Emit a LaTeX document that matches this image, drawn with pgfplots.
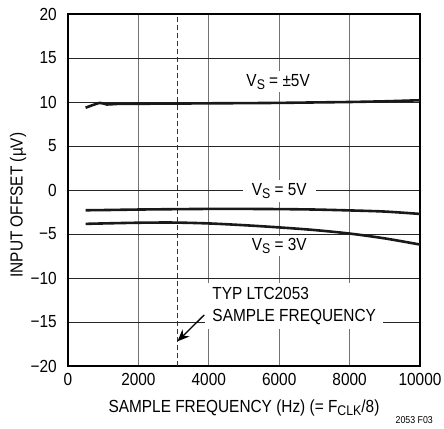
\documentclass[border=0pt]{standalone}
\usepackage{fontspec}
\setmainfont{Liberation Sans}[FakeStretch=0.88]
\usepackage{pgfplots}
\pgfplotsset{compat=1.18}
\usetikzlibrary{arrows.meta,calc}
\newcommand{\sub}[1]{\raisebox{-0.35ex}{\fontsize{14}{14}\selectfont #1}}
\begin{document}
\begin{tikzpicture}
\begin{axis}[
  name=ax,
  scale only axis,
  width=352pt, height=352pt,
  xmin=0, xmax=10000, ymin=-20, ymax=20,
  scaled x ticks=false, scaled y ticks=false,
  xtick={0,2000,4000,6000,8000,10000},
  xticklabels={0,2000,4000,6000,8000,10000},
  ytick={-20,-15,-10,-5,0,5,10,15,20},
  yticklabels={−20,−15,−10,−5,0,5,10,15,20},
  major tick length=0pt,
  xmajorgrids=true, ymajorgrids=true,
  x grid style={color=black!55, line width=1.2pt},
  y grid style={color=black!85, line width=0.7pt},
  axis line style={black, line width=1.2pt},
  ticklabel style={font=\fontsize{17.5}{20}\selectfont},
  xticklabel style={anchor=north, inner sep=0pt, yshift=-7.5pt},
  yticklabel style={anchor=east, inner sep=0pt, xshift=-11pt},
  xlabel={SAMPLE FREQUENCY (Hz) (= F\sub{CLK}/8)},
  ylabel={INPUT OFFSET (µV)},
  label style={font=\fontsize{17.5}{20}\selectfont},
  xlabel style={at={(axis description cs:0.5,-0.119)}, anchor=center},
  ylabel style={at={(axis description cs:-0.142,0.457)}, anchor=center, rotate=0},
  clip=false,
]
\addplot[black!80, line width=0.9pt, dash pattern=on 5pt off 3pt] coordinates {(3100,-20)(3100,20)};
\addplot[black!90, line width=2.6pt, smooth, tension=0.4] coordinates {
(500,9.35)(900,9.9)(1100,9.72)(1400,9.78)(2000,9.8)(3000,9.82)(4000,9.85)(5000,9.87)(6000,9.9)(7000,9.95)(8000,10.0)(9000,10.08)(10000,10.2)};
\addplot[black!90, line width=2.6pt, smooth] coordinates {
(500,-2.3)(1000,-2.28)(2000,-2.22)(3000,-2.18)(4000,-2.15)(5000,-2.15)(6000,-2.17)(7000,-2.22)(8000,-2.32)(9000,-2.45)(10000,-2.72)};
\addplot[black!90, line width=2.6pt, smooth] coordinates {
(500,-3.85)(1000,-3.8)(2000,-3.72)(3000,-3.7)(4000,-3.8)(5000,-4.0)(6000,-4.25)(7000,-4.55)(8000,-4.95)(9000,-5.5)(10000,-6.2)};
\node[fill=white, inner xsep=6pt, inner ysep=3pt, font=\fontsize{17.5}{20}\selectfont] at (axis cs:5970,12.3) {V\sub{S} = ±5V};
\node[fill=white, inner xsep=9pt, inner ysep=3pt, font=\fontsize{17.5}{20}\selectfont] at (axis cs:6000,-0.1) {V\sub{S} = 5V};
\node[fill=white, inner xsep=6pt, inner ysep=2pt, font=\fontsize{17.5}{20}\selectfont] at (axis cs:6000,-6.36) {V\sub{S} = 3V};
\node[fill=white, anchor=west, align=left, inner xsep=7pt, inner ysep=4pt, font=\fontsize{17.5}{22}\selectfont] at (axis cs:3900,-13.2) {TYP LTC2053\\SAMPLE FREQUENCY};
\draw[black, line width=1.3pt, -{Stealth[length=12pt,width=10pt]}] (axis cs:3870,-14.2) -- (axis cs:3110,-17.2);
\node[anchor=east, inner sep=0pt, font=\fontsize{10}{12}\selectfont] at (axis cs:10370,-26.1) {2053 F03};
\end{axis}
\pgfresetboundingbox
\path[use as bounding box] ($(ax.south west)+(-68pt,-62pt)$) rectangle ($(ax.north east)+(24pt,14pt)$);
\end{tikzpicture}
\end{document}
